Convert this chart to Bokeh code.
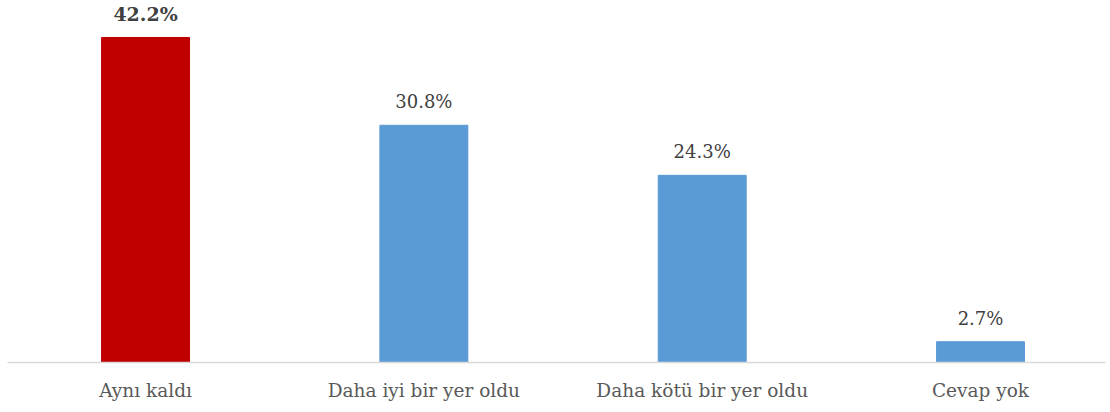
from bokeh.plotting import figure
from bokeh.models import ColumnDataSource, Range1d, FixedTicker, LabelSet
from bokeh.core.properties import value
from bokeh.embed import file_html
from bokeh.resources import INLINE

categories = ["Aynı kaldı", "Daha iyi bir yer oldu", "Daha kötü bir yer oldu", "Cevap yok"]
values = [42.2, 30.8, 24.3, 2.7]
labels = ["42.2%", "30.8%", "24.3%", "2.7%"]
colors = ["#C00000", "#5B9BD5", "#5B9BD5", "#5B9BD5"]

xs = list(range(len(categories)))
src = ColumnDataSource(dict(x=xs, top=values, label=labels, color=colors))

SERIF = "DejaVu Serif"

p = figure(width=1108, height=403, output_backend="svg", toolbar_location=None,
           x_range=Range1d(-0.496, 3.449), y_range=Range1d(0, 47.0),
           min_border_left=7, min_border_right=3, min_border_top=0, min_border_bottom=0)

p.vbar(x="x", top="top", width=0.316, bottom=0, color="color", source=src)

first = ColumnDataSource(dict(x=xs[:1], top=values[:1], label=labels[:1]))
rest = ColumnDataSource(dict(x=xs[1:], top=values[1:], label=labels[1:]))
p.add_layout(LabelSet(x="x", y="top", text="label", source=first, text_align="center",
                      text_baseline="alphabetic", y_offset=16,
                      text_font=value(SERIF), text_font_size="19px",
                      text_font_style="bold", text_color="#404040"))
p.add_layout(LabelSet(x="x", y="top", text="label", source=rest, text_align="center",
                      text_baseline="alphabetic", y_offset=17,
                      text_font=value(SERIF), text_font_size="18px",
                      text_color="#404040"))

p.xaxis.ticker = FixedTicker(ticks=xs)
p.xaxis.major_label_overrides = {i: c for i, c in zip(xs, categories)}
p.xaxis.major_label_text_font = SERIF
p.xaxis.major_label_text_font_size = "18.5px"
p.xaxis.major_label_text_color = "#595959"
p.xaxis.major_label_standoff = 11
p.xaxis.major_tick_line_color = None
p.xaxis.minor_tick_line_color = None
p.xaxis.axis_line_color = "#d9d9d9"
p.xaxis.axis_line_width = 1.5
p.yaxis.visible = False
p.xgrid.grid_line_color = None
p.ygrid.grid_line_color = None
p.outline_line_color = None

open("out.html", "w").write(file_html(p, INLINE))
